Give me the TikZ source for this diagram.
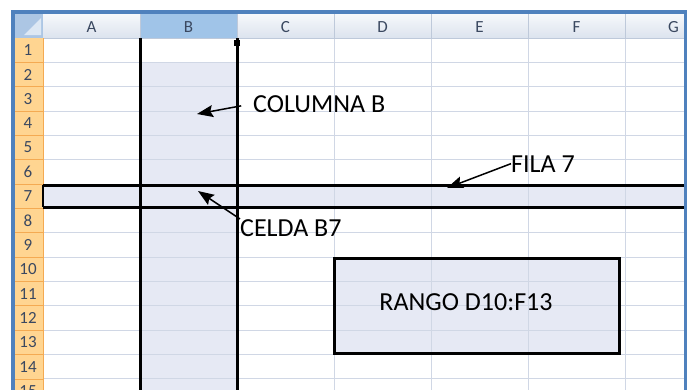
\documentclass[tikz,border=0pt]{standalone}
\usepackage{fontspec}
\setmainfont{Carlito}
\usetikzlibrary{arrows.meta}

\definecolor{frameblue}{RGB}{79,129,189}
\definecolor{gridline}{RGB}{208,215,229}
\definecolor{cellsel}{RGB}{230,233,244}
\definecolor{hdrtop}{RGB}{246,248,251}
\definecolor{hdrbot}{RGB}{220,227,238}
\definecolor{hdrsel}{RGB}{160,196,232}
\definecolor{hdrline}{RGB}{190,201,218}
\definecolor{rowhdr}{RGB}{255,213,145}
\definecolor{rowline}{RGB}{244,170,82}
\definecolor{hdrtext}{RGB}{58,72,96}
\definecolor{cornerblue}{RGB}{172,198,228}

\begin{document}
\begin{tikzpicture}[
    x=1pt,y=-1pt,
    grid/.style={draw=gridline,line width=0.9pt},
    selline/.style={line width=3pt,black},
    label/.style={inner sep=0pt,font=\fontsize{26}{30}\selectfont},
    hdr/.style={inner sep=0pt,text=hdrtext,font=\fontsize{17}{19}\selectfont},
    arrow/.style={line width=1.5pt,-{Stealth[length=16pt,width=12pt,inset=2.5pt]}}
]
\useasboundingbox (0,0) rectangle (693,389);
\clip (0,0) rectangle (693,389);
\fill[white] (0,0) rectangle (693,389);

% Selected cells
\fill[cellsel] (140,62.35) rectangle (237,400);
\fill[cellsel] (43,185) rectangle (684,207);
\fill[cellsel] (334,258) rectangle (619,353);

% Grid
\foreach \k in {1,...,6}
  \draw[grid] ({43+97*\k},38) -- ({43+97*\k},400);
\foreach \k in {1,...,15}
  \draw[grid] (43,{38+24.35*\k}) -- (684,{38+24.35*\k});

% Column headers
\shade[top color=hdrtop,bottom color=hdrbot] (14,14) rectangle (684,38);
\fill[hdrsel] (140,14) rectangle (237,38);
\foreach \k in {1,...,6}
  \draw[hdrline,line width=0.8pt] ({43+97*\k},14) -- ({43+97*\k},38);
\draw[hdrline,line width=0.8pt] (14,38) -- (684,38);
\foreach \c [count=\i] in {A,B,C,D,E,F,G}
  \node[hdr] at ({43+97*(\i-0.5)},27) {\c};

% Row headers
\fill[rowhdr] (14,38) rectangle (43,400);
\foreach \k in {1,...,15}
  \draw[rowline,line width=0.8pt] (14,{38+24.35*\k}) -- (43,{38+24.35*\k});
\draw[rowline,line width=0.9pt] (43,38) -- (43,400);
\foreach \r in {1,...,15}
  \node[hdr] at (28,{38+24.35*(\r-0.5)}) {\r};

% Corner
\fill[cornerblue] (14,14) rectangle (43,38);
\fill[white,opacity=0.6] (41,18) -- (41,35) -- (24,35) -- cycle;

% Column B and row 7 outlines
\draw[selline] (140,38) -- (140,400);
\draw[selline] (237,38) -- (237,400);
\fill (234,40) rectangle (239.5,46);
\draw[selline] (43,185) -- (684,185);
\draw[selline] (43,207) -- (684,207);
\draw[line width=1.5pt] (43,185) -- (43,207);

% Range D10:F13
\draw[selline] (334,258) rectangle (619,353);

% Frame
\draw[frameblue,line width=3.5pt] (13,12) rectangle (685.5,420);

% Labels
\node[label,anchor=base west] (colB) at (253,112) {COLUMNA B};
\node[label,anchor=base west] (fila) at (511,172) {FILA 7};
\node[label,anchor=base west] (celda) at (240,236) {CELDA B7};
\node[label,anchor=base] (rango) at (466,310) {RANGO D10:F13};

\coordinate (colBtip) at (197,114);
\coordinate (filatip) at (447,188);
\coordinate (celdatip) at (198,191);

\draw[arrow,shorten <=12pt] (colB.west) -- (colBtip);
\draw[arrow] (fila.west) -- (filatip);
\draw[arrow] (celda.north west) -- (celdatip);

\end{tikzpicture}
\end{document}
